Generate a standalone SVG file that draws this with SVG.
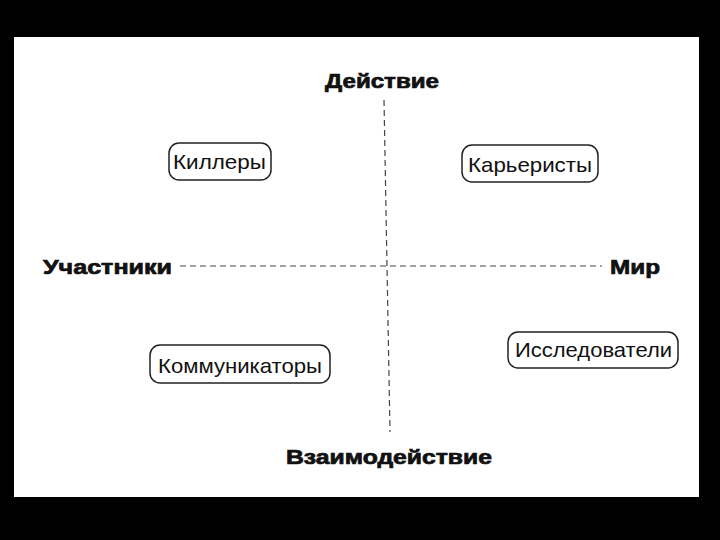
<svg xmlns="http://www.w3.org/2000/svg" width="720" height="540" viewBox="0 0 720 540">
<style>
.axis{fill:#111;font-family:"Liberation Sans",Arial,sans-serif;font-weight:bold;font-size:20px;stroke:#111;stroke-width:0.7px}
.box{fill:#fff;stroke:#222;stroke-width:1.5}
.lbl{fill:#111;font-family:"Liberation Sans",Arial,sans-serif;font-size:21px}
.dash{stroke:#444;stroke-width:1.2;stroke-dasharray:6 4;fill:none}
</style>
<rect x="0" y="0" width="720" height="540" fill="#000"/>
<rect x="14" y="37" width="685" height="460" fill="#fff"/>
<g id="connectors">
<line class="dash" x1="180" y1="266" x2="602" y2="266"/>
<line class="dash" x1="384" y1="100" x2="390" y2="432"/>
</g>
<g id="axis-action"><text class="axis" x="325" y="88" textLength="114" lengthAdjust="spacingAndGlyphs">Действие</text></g>
<g id="axis-participants"><text class="axis" x="43" y="274" textLength="129" lengthAdjust="spacingAndGlyphs">Участники</text></g>
<g id="axis-world"><text class="axis" x="610" y="274" textLength="50" lengthAdjust="spacingAndGlyphs">Мир</text></g>
<g id="axis-interaction"><text class="axis" x="286" y="464" textLength="206" lengthAdjust="spacingAndGlyphs">Взаимодействие</text></g>
<g id="node-killers">
<rect class="box" x="169" y="143" width="102" height="37" rx="10"/>
<text class="lbl" x="173" y="169" textLength="93" lengthAdjust="spacingAndGlyphs">Киллеры</text>
</g>
<g id="node-careerists">
<rect class="box" x="462" y="145" width="136" height="37" rx="10"/>
<text class="lbl" x="468" y="172" textLength="124" lengthAdjust="spacingAndGlyphs">Карьеристы</text>
</g>
<g id="node-communicators">
<rect class="box" x="150" y="345" width="180" height="38" rx="10"/>
<text class="lbl" x="158" y="373" textLength="164" lengthAdjust="spacingAndGlyphs">Коммуникаторы</text>
</g>
<g id="node-explorers">
<rect class="box" x="508" y="332" width="170" height="36" rx="10"/>
<text class="lbl" x="515" y="357" textLength="157" lengthAdjust="spacingAndGlyphs">Исследователи</text>
</g>
</svg>
